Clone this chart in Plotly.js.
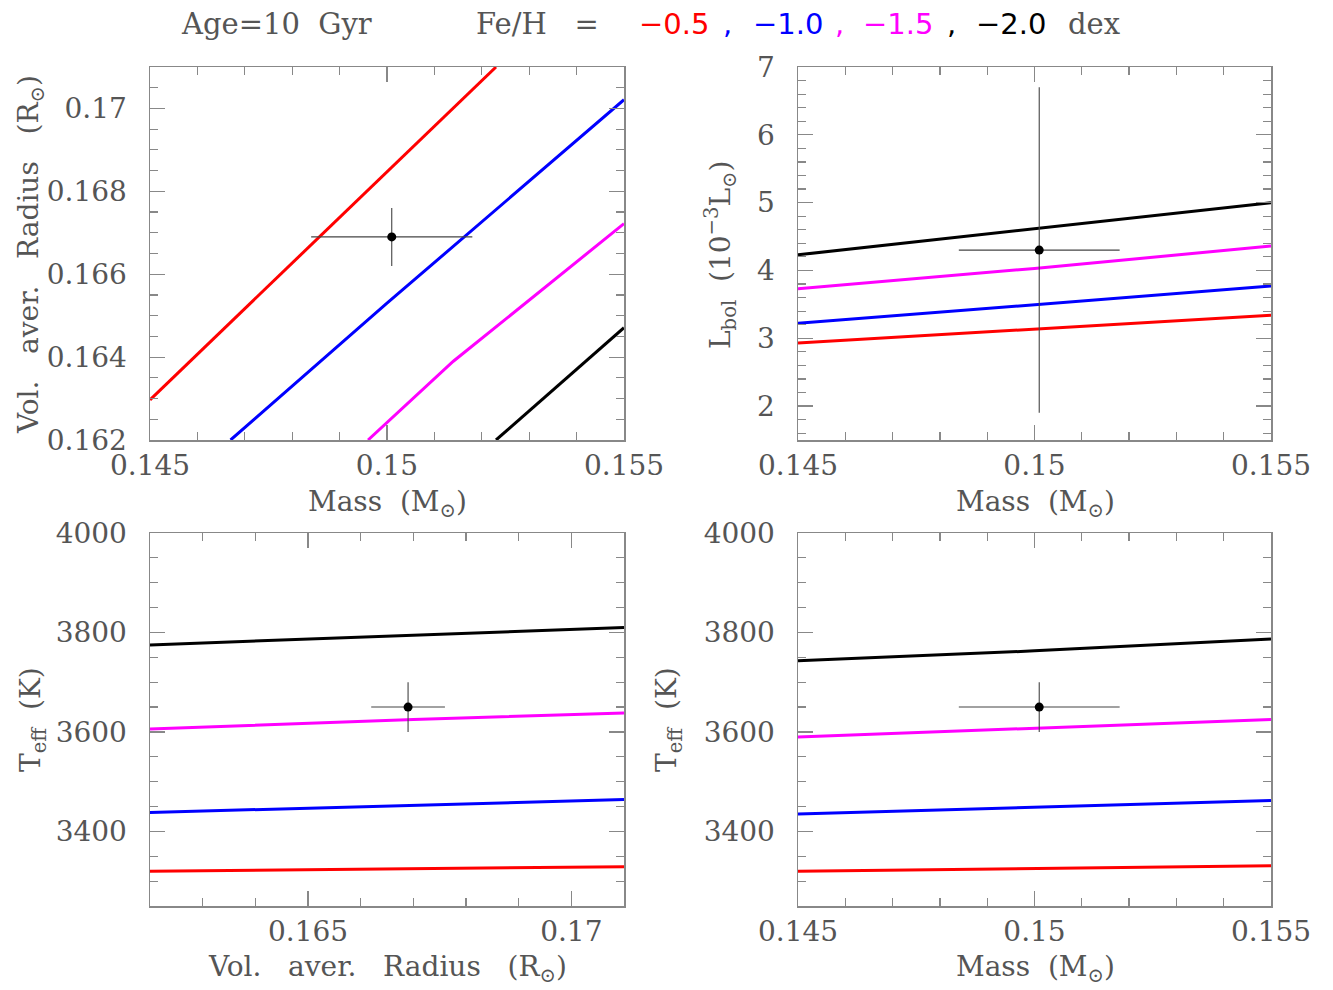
<!DOCTYPE html>
<html><head><meta charset="utf-8">
<script src="https://cdn.plot.ly/plotly-3.0.1.min.js"></script>
<style>body{margin:0;background:#fff}</style>
</head><body><div id="chart" style="width:1333px;height:990px"></div>
<script>
// ---- Data ----
const feh = ["-0.5", "-1.0", "-1.5", "-2.0"];
const fehColors = ["#ff0000", "#0000ff", "#ff00ff", "#000000"];

// Panel 1: Radius vs Mass
const p1RedMass = [0.145, 0.150, 0.1523];
const p1RedRad  = [0.16297, 0.16847, 0.1710];
const p1BlueMass = [0.1467, 0.150, 0.155];
const p1BlueRad  = [0.1620, 0.1653, 0.17021];
const p1MagMass = [0.1496, 0.1514, 0.155];
const p1MagRad  = [0.1620, 0.16390, 0.16722];
const p1BlkMass = [0.1523, 0.155];
const p1BlkRad  = [0.1620, 0.16471];

// Panel 2: Lbol vs Mass
const massGrid = [0.145, 0.150, 0.155];
const p2Red  = [2.93, 3.14, 3.34];
const p2Blue = [3.22, 3.50, 3.77];
const p2Mag  = [3.73, 4.03, 4.36];
const p2Blk  = [4.23, 4.62, 5.00];

// Panel 3: Teff vs Radius
const radGrid = [0.162, 0.167, 0.171];
const p3Red  = [3320, 3325, 3329];
const p3Blue = [3438, 3452, 3464];
const p3Mag  = [3606, 3625, 3638];
const p3Blk  = [3775, 3795, 3810];

// Panel 4: Teff vs Mass
const p4Red  = [3320, 3326, 3331];
const p4Blue = [3435, 3448, 3462];
const p4Mag  = [3590, 3608, 3625];
const p4Blk  = [3743, 3763, 3787];

// Observed star
const obsMass = [0.1501], obsMassErr = [0.0017];
const obsRad  = [0.1669], obsRadErr  = [0.0007];
const obsL    = [4.3],    obsLErr    = [2.4];
const obsTeff = [3650],   obsTeffErr = [50];

// ---- Build traces ----
const W = 1333, H = 990;
function line(x, y, color, xa, ya) {
  return {x: x, y: y, type: 'scatter', mode: 'lines', xaxis: xa, yaxis: ya,
          line: {color: color, width: 3}, showlegend: false, hoverinfo: 'skip'};
}
function obs(x, ex, y, ey, xa, ya) {
  return {x: x, y: y, type: 'scatter', mode: 'markers', xaxis: xa, yaxis: ya,
          marker: {color: '#000', size: 9},
          error_x: {type: 'data', array: ex, color: '#444', thickness: 1.1, width: 0},
          error_y: {type: 'data', array: ey, color: '#444', thickness: 1.1, width: 0},
          showlegend: false};
}
const traces = [
  line(p1RedMass, p1RedRad, fehColors[0], 'x', 'y'),
  line(p1BlueMass, p1BlueRad, fehColors[1], 'x', 'y'),
  line(p1MagMass, p1MagRad, fehColors[2], 'x', 'y'),
  line(p1BlkMass, p1BlkRad, fehColors[3], 'x', 'y'),
  obs(obsMass, obsMassErr, obsRad, obsRadErr, 'x', 'y'),

  line(massGrid, p2Red, fehColors[0], 'x2', 'y2'),
  line(massGrid, p2Blue, fehColors[1], 'x2', 'y2'),
  line(massGrid, p2Mag, fehColors[2], 'x2', 'y2'),
  line(massGrid, p2Blk, fehColors[3], 'x2', 'y2'),
  obs(obsMass, obsMassErr, obsL, obsLErr, 'x2', 'y2'),

  line(radGrid, p3Red, fehColors[0], 'x3', 'y3'),
  line(radGrid, p3Blue, fehColors[1], 'x3', 'y3'),
  line(radGrid, p3Mag, fehColors[2], 'x3', 'y3'),
  line(radGrid, p3Blk, fehColors[3], 'x3', 'y3'),
  obs(obsRad, obsRadErr, obsTeff, obsTeffErr, 'x3', 'y3'),

  line(massGrid, p4Red, fehColors[0], 'x4', 'y4'),
  line(massGrid, p4Blue, fehColors[1], 'x4', 'y4'),
  line(massGrid, p4Mag, fehColors[2], 'x4', 'y4'),
  line(massGrid, p4Blk, fehColors[3], 'x4', 'y4'),
  obs(obsMass, obsMassErr, obsTeff, obsTeffErr, 'x4', 'y4')
];

// ---- Layout ----
const serif = 'DejaVu Serif';
const sans = 'DejaVu Sans';
const txtColor = '#555';
const frameColor = '#888';
function minorTicks(d) {
  return {dtick: d, ticks: 'inside', ticklen: 8, tickwidth: 1.2, tickcolor: frameColor, showgrid: false};
}
function ax(extra) {
  return Object.assign({
    showline: true, linecolor: frameColor, linewidth: 1.5, mirror: 'ticks',
    ticks: 'inside', ticklen: 15, tickwidth: 1.2, tickcolor: frameColor,
    showgrid: false, zeroline: false, fixedrange: true, tick0: 0,
    tickfont: {family: serif, size: 28, color: txtColor}
  }, extra);
}
const colL = [150 / W, 624 / W], colR = [798 / W, 1271 / W];
const rowT = [1 - 440 / H, 1 - 67 / H], rowB = [1 - 906 / H, 1 - 533 / H];

function px(x) { return x / W; }
function py(y) { return 1 - y / H; }
function ann(text, x, y, opts) {
  return Object.assign({text: text, xref: 'paper', yref: 'paper', x: px(x), y: py(y),
    showarrow: false, xanchor: 'center', yanchor: 'middle',
    font: {family: serif, size: 28, color: txtColor}}, opts || {});
}
const sun = '⊙';
const massTitle = 'Mass  (M<sub>' + sun + '</sub>)';
const radTitle = 'Vol.   aver.   Radius   (R<sub>' + sun + '</sub>)';
const lTitle = 'L<sub>bol</sub>  (10<sup>−3</sup>L<sub>' + sun + '</sub>)';
const tTitle = 'T<sub>eff</sub>  (K)';

const hdrSerif = {family: serif, size: 29, color: txtColor};
function hdrNum(c) { return {family: sans, size: 29, color: c}; }
const annotations = [
  ann(massTitle, 387, 503),
  ann(massTitle, 1035, 503),
  ann(radTitle, 387, 968),
  ann(massTitle, 1035, 968),
  ann(radTitle, 30, 255, {textangle: -90}),
  ann(lTitle, 720, 255, {textangle: -90}),
  ann(tTitle, 32, 720, {textangle: -90}),
  ann(tTitle, 668, 720, {textangle: -90}),
  // top header
  ann('Age=10  Gyr', 179, 24, {xanchor: 'left', font: hdrSerif}),
  ann('Fe/H   =', 474, 24, {xanchor: 'left', font: hdrSerif}),
  ann('−' + feh[0].slice(1), 637, 24, {xanchor: 'left', font: hdrNum(fehColors[0])}),
  ann(',', 721, 24, {xanchor: 'left', font: hdrNum(fehColors[1])}),
  ann('−' + feh[1].slice(1), 751, 24, {xanchor: 'left', font: hdrNum(fehColors[1])}),
  ann(',', 833, 24, {xanchor: 'left', font: hdrNum(fehColors[2])}),
  ann('−' + feh[2].slice(1), 861, 24, {xanchor: 'left', font: hdrNum(fehColors[2])}),
  ann(',', 945, 24, {xanchor: 'left', font: hdrNum(fehColors[3])}),
  ann('−' + feh[3].slice(1), 974, 24, {xanchor: 'left', font: hdrNum(fehColors[3])}),
  ann('dex', 1066, 24, {xanchor: 'left', font: hdrSerif})
];

const layout = {
  width: W, height: H, margin: {l: 0, r: 0, t: 0, b: 0},
  paper_bgcolor: '#fff', plot_bgcolor: '#fff', showlegend: false,
  xaxis:  ax({domain: colL, anchor: 'y',  range: [0.145, 0.155], dtick: 0.005, minor: minorTicks(0.001), ticklabelstandoff: 0}),
  yaxis:  ax({domain: rowT, anchor: 'x',  range: [0.162, 0.171], dtick: 0.002, minor: minorTicks(0.0005), ticklabelstandoff: 16}),
  xaxis2: ax({domain: colR, anchor: 'y2', range: [0.145, 0.155], dtick: 0.005, minor: minorTicks(0.001), ticklabelstandoff: 0}),
  yaxis2: ax({domain: rowT, anchor: 'x2', range: [1.5, 7], dtick: 1, minor: minorTicks(0.2), ticklabelstandoff: 16}),
  xaxis3: ax({domain: colL, anchor: 'y3', range: [0.162, 0.171], dtick: 0.005, minor: minorTicks(0.001), ticklabelstandoff: 0}),
  yaxis3: ax({domain: rowB, anchor: 'x3', range: [3250, 4000], dtick: 200, minor: minorTicks(50), ticklabelstandoff: 16}),
  xaxis4: ax({domain: colR, anchor: 'y4', range: [0.145, 0.155], dtick: 0.005, minor: minorTicks(0.001), ticklabelstandoff: 0}),
  yaxis4: ax({domain: rowB, anchor: 'x4', range: [3250, 4000], dtick: 200, minor: minorTicks(50), ticklabelstandoff: 16}),
  annotations: annotations
};

Plotly.newPlot('chart', traces, layout, {displayModeBar: false, staticPlot: true});
</script>
</body></html>
